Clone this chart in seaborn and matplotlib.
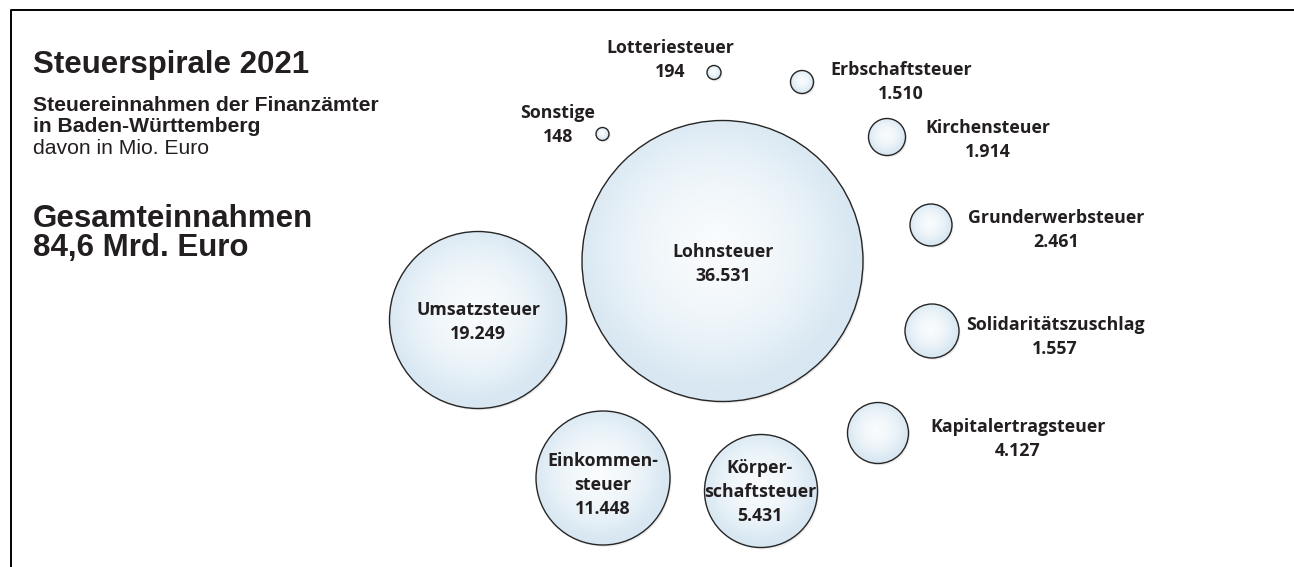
import numpy as np
import pandas as pd
import matplotlib
matplotlib.use("Agg")
import matplotlib.pyplot as plt
import seaborn as sns
from matplotlib.patches import Circle
from matplotlib.colors import LinearSegmentedColormap

# ---------------- data ----------------
categories = ["Lohnsteuer", "Umsatzsteuer", "Einkommensteuer", "Körperschaftsteuer",
              "Kapitalertragsteuer", "Solidaritätszuschlag", "Grunderwerbsteuer",
              "Kirchensteuer", "Erbschaftsteuer", "Lotteriesteuer", "Sonstige"]
values = [36531, 19249, 11448, 5431, 4127, 1557, 2461, 1914, 1510, 194, 148]
label_names = ["Lohnsteuer", "Umsatzsteuer", "Einkommen-\nsteuer", "Körper-\nschaftsteuer",
               "Kapitalertragsteuer", "Solidaritätszuschlag", "Grunderwerbsteuer",
               "Kirchensteuer", "Erbschaftsteuer", "Lotteriesteuer", "Sonstige"]

title = "Steuerspirale 2021"
subtitle_bold = ["Steuereinnahmen der Finanzämter", "in Baden-Württemberg"]
subtitle_unit = "davon in Mio. Euro"
total_lines = ["Gesamteinnahmen", "84,6 Mrd. Euro"]

# ---------------- layout (pixel space, spiral arrangement) ----------------
bx = [722.5, 478, 603, 761, 878, 932, 931, 887, 802, 714, 602.5]
by = [261, 320, 478, 491, 433, 331, 225, 137, 82, 72.5, 134]
br = [140.5, 88.5, 67, 56.5, 30.5, 27, 21, 18.5, 11.5, 7, 6.5]
# label anchors: (x, y of first line)
lx = [723, 478, 603, 760, 1018, 1055, 1056, 988, 901, 670, 558]
ly = [252, 310, 461, 468, 427, 325, 218, 128, 70, 48, 113]

def fmt(v):
    return f"{v:,}".replace(",", ".")

sns.set_theme(style="white")
plt.rcParams["font.family"] = ["DejaVu Sans"]

W, H, DPI = 1294, 567, 100
fig = plt.figure(figsize=(W / DPI, H / DPI), dpi=DPI)
ax = fig.add_axes([0, 0, 1, 1])
ax.set_xlim(0, W)
ax.set_ylim(H, 0)
ax.axis("off")

# frame (top and left)
ax.plot([10.5, 10.5, W], [H, 9.5, 9.5], color="black", lw=1.4, solid_capstyle="butt", zorder=1)

cmap = LinearSegmentedColormap.from_list("bub", ["#fafcfe", "#ecf4f9", "#d8e7f2"])
n = 200
g = np.linspace(-1, 1, n)
GX, GY = np.meshgrid(g, g)
dist = np.clip(np.sqrt((GX + 0.05) ** 2 + (GY + 0.08) ** 2), 0, 1)

for x, y, r in zip(bx, by, br):
    sh = Circle((x + 1.5, y + 1.8), r, facecolor="#a0a0a0", edgecolor="none", alpha=0.2, zorder=2)
    ax.add_patch(sh)
    clip = Circle((x, y), r, transform=ax.transData)
    im = ax.imshow(dist ** 1.3, cmap=cmap, vmin=0, vmax=1, extent=[x - r, x + r, y + r, y - r],
                   interpolation="bilinear", zorder=3)
    im.set_clip_path(clip)

ax.set_xlim(0, W)
ax.set_ylim(H, 0)
ax.set_aspect("auto")

df = pd.DataFrame({"x": bx, "y": by, "Steuer": categories, "Wert": values})
size_map = {c: (2 * r * 72 / DPI) ** 2 for c, r in zip(categories, br)}
sns.scatterplot(data=df, x="x", y="y", size="Steuer", sizes=size_map, legend=False,
                ax=ax, zorder=4, linewidth=1.0, edgecolor="#262626", color="none")
for coll in ax.collections:
    coll.set_facecolor("none")
    coll.set_edgecolor("#262626")
ax.set_xlim(0, W)
ax.set_ylim(H, 0)
ax.axis("off")

lab_font = dict(family="Open Sans", weight="bold", fontsize=12.8, color="#231f20")
for name, v, x, y in zip(label_names, values, lx, ly):
    lines = name.split("\n") + [fmt(v)]
    for i, t in enumerate(lines):
        ax.text(x, y + i * 24, t, ha="center", va="center", **lab_font)

tf = dict(family="Liberation Sans", color="#231f20")
ax.text(33, 73, title, fontsize=22.5, weight="bold", va="baseline", ha="left", **tf)
for i, t in enumerate(subtitle_bold):
    ax.text(33, 111 + i * 21.5, t, fontsize=15.2, weight="bold", va="baseline", ha="left", **tf)
ax.text(33, 154, subtitle_unit, fontsize=15.2, va="baseline", ha="left", **tf)
for i, t in enumerate(total_lines):
    ax.text(33, 227 + i * 29, t, fontsize=22.5, weight="bold", va="baseline", ha="left", **tf)

fig.savefig("out.png", dpi=DPI)
